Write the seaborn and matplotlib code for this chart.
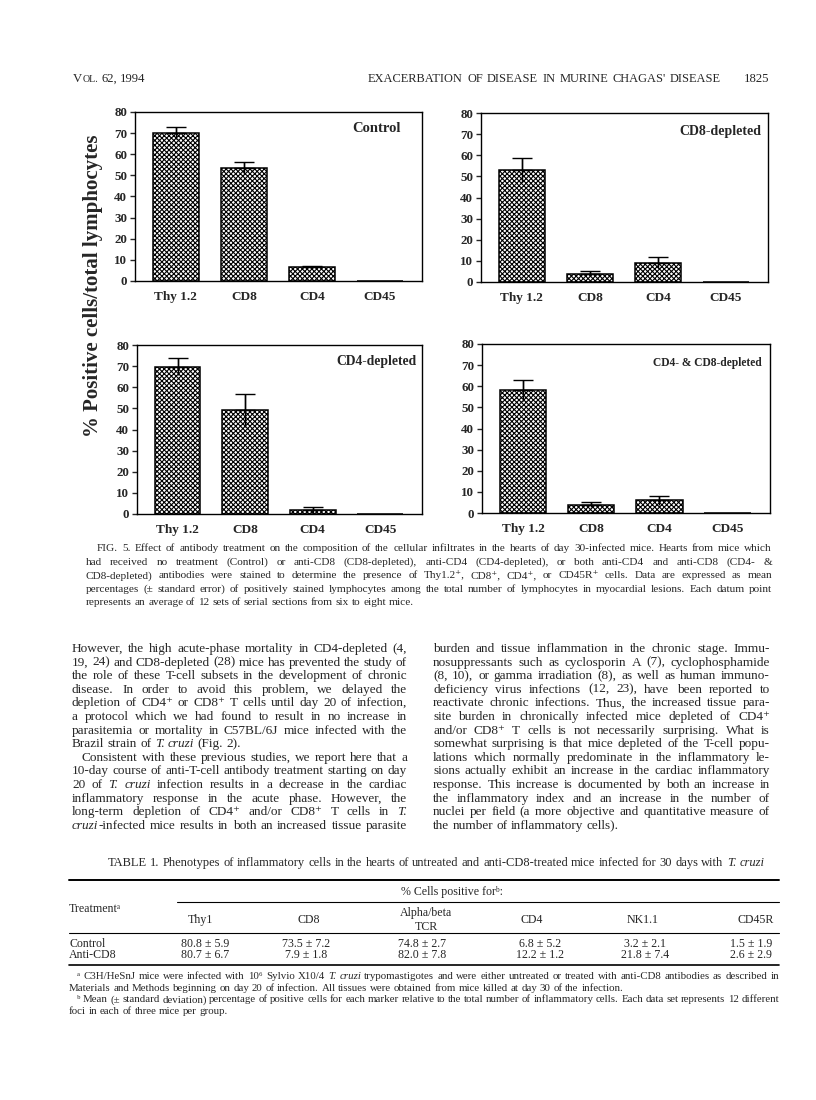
import matplotlib
matplotlib.use("Agg")
import matplotlib.pyplot as plt
from matplotlib.lines import Line2D
import seaborn as sns
import numpy as np
import pandas as pd

# --- bar chart data (mean % positive cells, upper standard error)
markers = ["Thy 1.2", "CD8", "CD4", "CD45"]
panels = ["Control", "CD8-depleted", "CD4-depleted", "CD4- & CD8-depleted"]
control_mean = [70.0, 53.5, 6.5, 0.0]
control_err = [3.0, 2.7, 0.8, 0.0]
cd8dep_mean = [53.0, 4.0, 9.2, 0.0]
cd8dep_err = [5.8, 1.1, 2.7, 0.0]
cd4dep_mean = [69.7, 49.0, 2.0, 0.0]
cd4dep_err = [4.0, 7.7, 1.3, 0.0]
both_mean = [58.0, 4.0, 6.0, 0.0]
both_err = [4.9, 1.1, 2.0, 0.0]

# --- table 1 data
tbl_cols = ["Thy1", "CD8", "Alpha/beta\nTCR", "CD4", "NK1.1", "CD45R"]
tbl_rows = ["Control", "Anti-CD8"]
control_pct = [80.8, 73.5, 74.8, 6.8, 3.2, 1.5]
control_sd = [5.9, 7.2, 2.7, 5.2, 2.1, 1.9]
antic8_pct = [80.7, 7.9, 82.0, 12.2, 21.8, 2.6]
antic8_sd = [6.7, 1.8, 7.8, 1.2, 7.4, 2.9]

# --- page text
caption = [
    "FIG. 5.  Effect of antibody treatment on the composition of the cellular infiltrates in the hearts of day 30-infected mice. Hearts from mice which",
    "had received no treatment (Control) or anti-CD8 (CD8-depleted), anti-CD4 (CD4-depleted), or both anti-CD4 and anti-CD8 (CD4- &",
    "CD8-depleted) antibodies were stained to determine the presence of Thy1.2⁺, CD8⁺, CD4⁺, or CD45R⁺ cells. Data are expressed as mean",
    "percentages (± standard error) of positively stained lymphocytes among the total number of lymphocytes in myocardial lesions. Each datum point",
    "represents an average of 12 sets of serial sections from six to eight mice.",
]
left_col = [
    "However, the high acute-phase mortality in CD4-depleted (4,",
    "19, 24) and CD8-depleted (28) mice has prevented the study of",
    "the role of these T-cell subsets in the development of chronic",
    "disease. In order to avoid this problem, we delayed the",
    "depletion of CD4⁺ or CD8⁺ T cells until day 20 of infection,",
    "a protocol which we had found to result in no increase in",
    "parasitemia or mortality in C57BL/6J mice infected with the",
    "Brazil strain of _T. _cruzi (Fig. 2).",
    "Consistent with these previous studies, we report here that a",
    "10-day course of anti-T-cell antibody treatment starting on day",
    "20 of _T. _cruzi infection results in a decrease in the cardiac",
    "inflammatory response in the acute phase. However, the",
    "long-term depletion of CD4⁺ and/or CD8⁺ T cells in _T.",
    "_cruzi|-infected mice results in both an increased tissue parasite",
]
right_col = [
    "burden and tissue inflammation in the chronic stage. Immu-",
    "nosuppressants such as cyclosporin A (7), cyclophosphamide",
    "(8, 10), or gamma irradiation (8), as well as human immuno-",
    "deficiency virus infections (12, 23), have been reported to",
    "reactivate chronic infections. Thus, the increased tissue para-",
    "site burden in chronically infected mice depleted of CD4⁺",
    "and/or CD8⁺ T cells is not necessarily surprising. What is",
    "somewhat surprising is that mice depleted of the T-cell popu-",
    "lations which normally predominate in the inflammatory le-",
    "sions actually exhibit an increase in the cardiac inflammatory",
    "response. This increase is documented by both an increase in",
    "the inflammatory index and an increase in the number of",
    "nuclei per field (a more objective and quantitative measure of",
    "the number of inflammatory cells).",
]
foot_a = [
    "ᵃ C3H/HeSnJ mice were infected with 10⁶ Sylvio X10/4 _T. _cruzi trypomastigotes and were either untreated or treated with anti-CD8 antibodies as described in",
    "Materials and Methods beginning on day 20 of infection. All tissues were obtained from mice killed at day 30 of the infection.",
]
foot_b = [
    "ᵇ Mean (± standard deviation) percentage of positive cells for each marker relative to the total number of inflammatory cells. Each data set represents 12 different",
    "foci in each of three mice per group.",
]

W, H = 816, 1100
SERIF = ["Liberation Serif", "DejaVu Serif", "DejaVu Sans"]

sns.set_style("ticks")
plt.rcParams["font.family"] = SERIF
plt.rcParams["hatch.linewidth"] = 0.8

fig = plt.figure(figsize=(W / 100, H / 100), dpi=100)
rend = fig.canvas.get_renderer()


def fx(x):
    return x / W


def fy(y):
    return 1 - y / H


def seg(x, y, s, size):
    # "_" = italic, "^" = small caps piece; y is the line's middle, moved down to the baseline
    style, sz = "normal", size
    if s.startswith("_"):
        s, style = s[1:], "italic"
    if s.startswith("^"):
        s, sz = s[1:], size * 0.78
    base = y + size * 100 / 72 * 0.3
    t = fig.text(fx(x), fy(base), s, fontsize=sz, fontstyle=style,
                 ha="left", va="baseline")
    # words with deep descenders get lifted by the baseline layout, push them back
    prop = t.get_fontproperties()
    d_w = rend.get_text_width_height_descent(s, prop, ismath=False)[2]
    d_lp = rend.get_text_width_height_descent("lp", prop, ismath=False)[2]
    if d_w > d_lp:
        t.set_y(fy(base + (d_w - d_lp)))
    return t


# draw one line word by word so it can be justified like the print
def text_line(line, x0, x1, y, size, align="justify"):
    words = []
    for w in line.split():
        parts = [seg(0, y, s, size) for s in w.split("|")]
        widths = [p.get_window_extent(rend).width for p in parts]
        words.append((parts, widths))
    total = sum(sum(ws) for _, ws in words)
    space = size * 100 / 72 * 0.25
    if align == "justify" and len(words) > 1:
        space = (x1 - x0 - total) / (len(words) - 1)
    width = total + space * (len(words) - 1)
    x = x0
    if align == "center":
        x = (x0 + x1 - width) / 2
    elif align == "right":
        x = x1 - width
    for parts, widths in words:
        for p, w in zip(parts, widths):
            p.set_x(fx(x))
            x += w
        x += space


def paragraph(lines, x0, x1, y0, step, size, indent_rows=(), last_rows=(), indent=10):
    for i, line in enumerate(lines):
        start = x0 + (indent if i in indent_rows else 0)
        align = "left" if i in last_rows else "justify"
        text_line(line, start, x1, y0 + i * step, size, align)


# running head
text_line("V|^OL. 62, 1994", 73, 300, 78, 9.2, "left")
text_line("EXACERBATION OF DISEASE IN MURINE CHAGAS' DISEASE", 368, 721, 78, 8.9)
text_line("1825", 600, 769, 78, 9.2, "right")

# --- the four bar panels
df = pd.DataFrame({
    "panel": np.repeat(panels, len(markers)),
    "marker": markers * len(panels),
    "mean": control_mean + cd8dep_mean + cd4dep_mean + both_mean,
    "err": control_err + cd8dep_err + cd4dep_err + both_err,
})

rects = {
    "Control": (135, 112, 422, 281),
    "CD8-depleted": (481, 113, 768, 282),
    "CD4-depleted": (137, 345, 422, 514),
    "CD4- & CD8-depleted": (482, 344, 770, 513),
}
titles = {
    "Control": (0.927, 0.905, 10.5),
    "CD8-depleted": (0.976, 0.893, 10),
    "CD4-depleted": (0.982, 0.90, 9.8),
    "CD4- & CD8-depleted": (0.972, 0.89, 8.3),
}

for p in panels:
    l, t, r, b = rects[p]
    ax = fig.add_axes([fx(l), fy(b), (r - l) / W, (b - t) / H])
    sub = df[df["panel"] == p]
    sns.barplot(data=sub, x="marker", y="mean", order=markers, color="white",
                saturation=1, edgecolor="black", linewidth=1.1, hatch="xxxxxxx",
                width=0.68, errorbar=None, ax=ax)
    xs = np.arange(len(markers))
    has = sub["err"].to_numpy() > 0
    m = sub["mean"].to_numpy()[has]
    e = sub["err"].to_numpy()[has]
    ax.errorbar(xs[has], m, yerr=e, fmt="none", ecolor="black", elinewidth=1, capsize=0)
    ax.errorbar(xs[has], m, yerr=[np.zeros_like(e), e], fmt="none", ecolor="black",
                elinewidth=1, capsize=7, capthick=1)
    ax.set_xlim(-0.6, 3.62)
    ax.set_ylim(0, 80)
    ax.set_yticks(range(0, 81, 10))
    ax.set_xlabel("")
    ax.set_ylabel("")
    for s in ax.spines.values():
        s.set_visible(True)
        s.set_linewidth(1)
        s.set_color("black")
    ax.tick_params(axis="x", length=0, pad=7, labelsize=9.5)
    ax.tick_params(axis="y", length=3.5, width=1, direction="out", pad=2, labelsize=9.4)
    for lbl in ax.get_xticklabels() + ax.get_yticklabels():
        lbl.set_fontweight("bold")
    tx, ty, tsz = titles[p]
    ax.text(tx, ty, p, transform=ax.transAxes, ha="right", va="center",
            fontsize=tsz, fontweight="bold")

fig.text(fx(93), fy(286), "% Positive cells/total lymphocytes", rotation=90,
         ha="center", va="center", fontsize=15, fontweight="bold")

# --- caption and body text
paragraph(caption, 86, 772, 548, 13.4, 8.15, indent_rows=(0,), last_rows=(4,), indent=11)
paragraph(left_col, 72, 407, 648, 13.6, 9.5, indent_rows=(8,), last_rows=(7,), indent=10)
paragraph(right_col, 433, 770, 648, 13.6, 9.5, last_rows=(13,))

# --- table 1
text_line("TABLE 1. Phenotypes of inflammatory cells in the hearts of untreated and "
          "anti-CD8-treated mice infected for 30 days with _T. _cruzi", 93, 779, 862, 9.0, "center")
fig.add_artist(Line2D([fx(69), fx(779)], [fy(880), fy(880)], color="black", lw=1.4))
fig.add_artist(Line2D([fx(177), fx(779)], [fy(902), fy(902)], color="black", lw=0.8))
fig.add_artist(Line2D([fx(69), fx(779)], [fy(933), fy(933)], color="black", lw=0.8))
fig.add_artist(Line2D([fx(69), fx(779)], [fy(965), fy(965)], color="black", lw=1.2))
fig.text(fx(452), fy(892), "% Cells positive forᵇ:", ha="center", va="center", fontsize=8.6)
fig.text(fx(69), fy(909), "Treatmentᵃ", ha="left", va="center", fontsize=8.6)

col_x = [200, 309, 426, 532, 643, 756]
val_x = [205, 306, 422, 540, 645, 751]
for cx, name in zip(col_x, tbl_cols):
    fig.text(fx(cx), fy(920), name, ha="center", va="center", fontsize=8.6,
             linespacing=1.15, multialignment="center")

row_y = [944, 955]
for ry, rname, means, sds in zip(row_y, tbl_rows, [control_pct, antic8_pct], [control_sd, antic8_sd]):
    fig.text(fx(69), fy(ry), rname, ha="left", va="center", fontsize=8.6)
    for vx, mv, sv in zip(val_x, means, sds):
        fig.text(fx(vx), fy(ry), f"{mv:.1f} ± {sv:.1f}", ha="center", va="center", fontsize=8.6)

paragraph(foot_a, 69, 779, 976, 11.6, 7.8, indent_rows=(0,), last_rows=(1,), indent=8)
paragraph(foot_b, 69, 779, 999, 11.6, 7.8, indent_rows=(0,), last_rows=(1,), indent=8)

fig.savefig("out.png", dpi=100, facecolor="white")
